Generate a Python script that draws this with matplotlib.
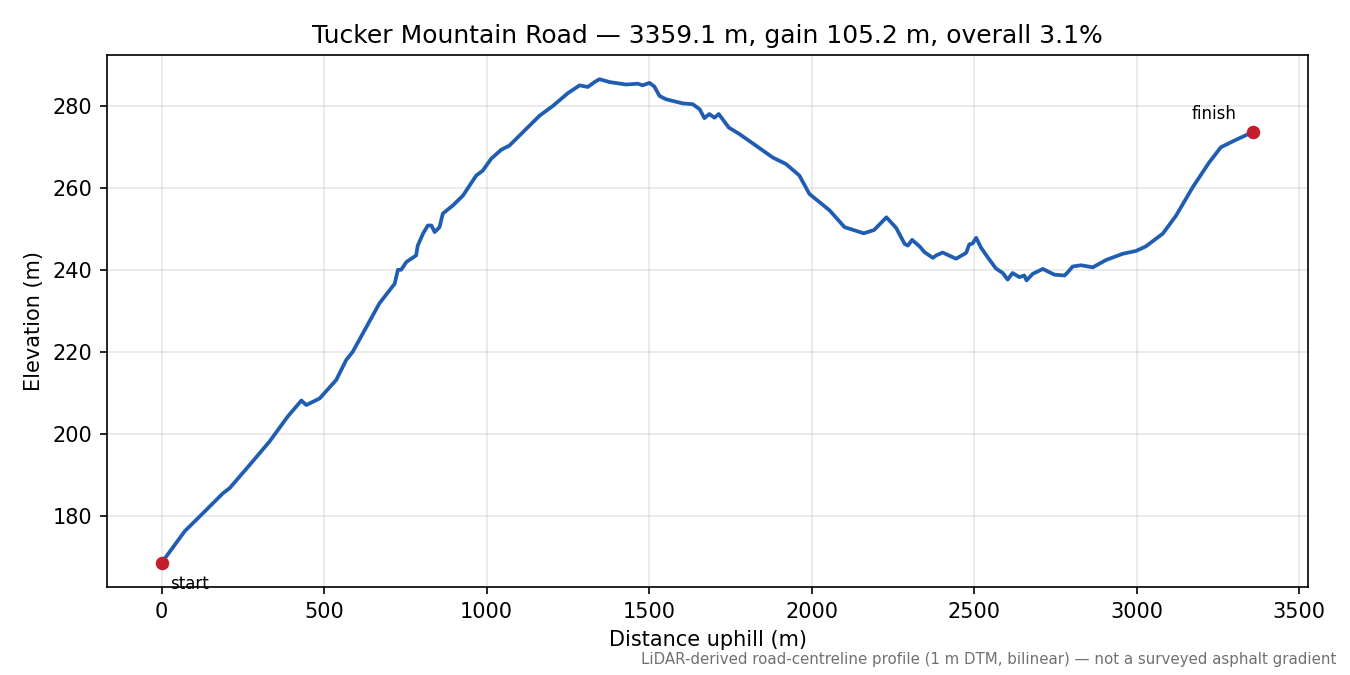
#!/usr/bin/env python3

import matplotlib
matplotlib.use("Agg")
from matplotlib import pyplot as plt

# road profile (distance m, elevation m)
dist = [0, 71, 122, 189, 209, 271, 332, 388, 430, 445, 486, 537, 568, 588,
        670, 717, 727, 737, 753, 783, 788, 804, 819, 830, 840, 855, 865, 896,
        927, 947, 968, 988, 1014, 1045, 1070, 1122, 1163, 1204, 1250, 1286,
        1311, 1332, 1347, 1378, 1429, 1465, 1480, 1501, 1516, 1532, 1552,
        1603, 1634, 1655, 1670, 1685, 1701, 1714, 1745, 1778, 1814, 1880,
        1921, 1962, 1993, 2055, 2101, 2160, 2192, 2230, 2260, 2286, 2296,
        2309, 2332, 2347, 2373, 2383, 2403, 2444, 2475, 2485, 2495, 2506,
        2521, 2541, 2567, 2588, 2603, 2618, 2639, 2654, 2661, 2680, 2711,
        2747, 2778, 2788, 2803, 2829, 2865, 2906, 2957, 2998, 3028, 3080,
        3121, 3172, 3223, 3259, 3300, 3359.1]
elev = [168.5, 176.2, 180.2, 185.5, 186.7, 192.4, 198.1, 204.2, 208.1, 207.0,
        208.6, 213.1, 218.0, 220.0, 231.8, 236.6, 240.0, 240.0, 241.9, 243.5,
        245.9, 248.8, 250.8, 250.8, 249.2, 250.4, 253.7, 255.7, 258.1, 260.5,
        263.0, 264.2, 267.1, 269.3, 270.3, 274.4, 277.6, 280.0, 283.1, 285.0,
        284.6, 285.8, 286.5, 285.8, 285.2, 285.4, 285.0, 285.6, 284.7, 282.4,
        281.6, 280.6, 280.4, 279.2, 277.0, 278.0, 277.1, 278.0, 274.7, 273.1,
        271.1, 267.4, 265.8, 263.0, 258.5, 254.5, 250.4, 248.9, 249.7, 252.8,
        250.2, 246.3, 245.9, 247.3, 245.7, 244.3, 242.9, 243.5, 244.2, 242.7,
        244.1, 246.2, 246.4, 247.8, 245.4, 243.1, 240.3, 239.2, 237.6, 239.2,
        238.2, 238.6, 237.4, 239.0, 240.2, 238.8, 238.6, 239.4, 240.8, 241.1,
        240.6, 242.4, 243.9, 244.6, 245.7, 248.8, 253.2, 260.1, 266.2, 269.9,
        271.5, 273.7]

title = "Tucker Mountain Road \u2014 3359.1 m, gain 105.2 m, overall 3.1%"
note = ("LiDAR-derived road-centreline profile (1 m DTM, bilinear) "
        "\u2014 not a surveyed asphalt gradient")

fig, ax = plt.subplots(figsize=(9, 4.5), dpi=150)
fig.subplots_adjust(left=0.0793, right=0.9689, top=0.9185, bottom=0.1304)

ax.plot(dist, elev, color="#1f5db3", linewidth=1.8)
ax.scatter([dist[0], dist[-1]], [elev[0], elev[-1]], color="#c41e2e",
           s=30, zorder=3)
ax.annotate("start", (dist[0], elev[0]), xytext=(4, -6),
            textcoords="offset points", ha="left", va="top", fontsize=8)
ax.annotate("finish", (dist[-1], elev[-1]), xytext=(-8, 4),
            textcoords="offset points", ha="right", va="bottom", fontsize=8)

ax.set_title(title, fontsize=12)
ax.set_xlabel("Distance uphill (m)")
ax.set_ylabel("Elevation (m)")
ax.grid(True, alpha=0.3)

fig.text(0.99, 0.012, note, ha="right", va="bottom", fontsize=7.2, color="#707070")

plt.savefig("out.png")
